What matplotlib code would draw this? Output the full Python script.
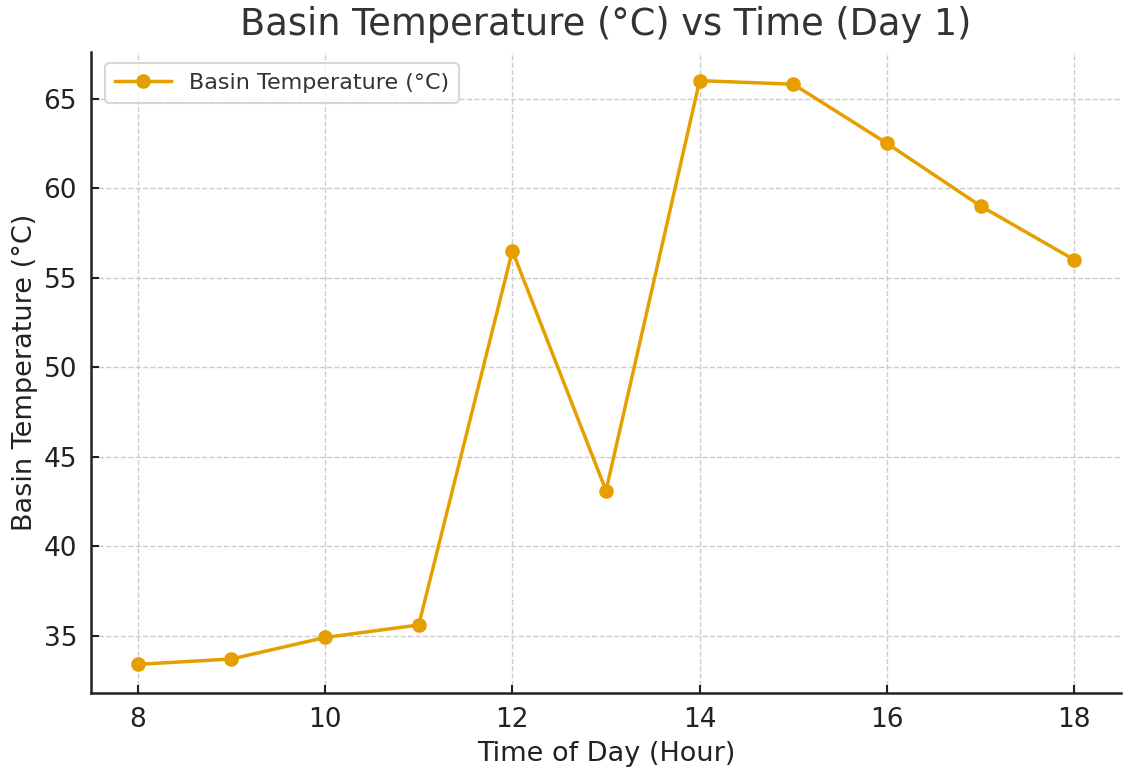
import matplotlib
matplotlib.use("Agg")
import matplotlib.pyplot as plt

hours = [8, 9, 10, 11, 12, 13, 14, 15, 16, 17, 18]
basin_temp = [33.4, 33.7, 34.9, 35.6, 56.5, 43.1, 66.0, 65.8, 62.5, 59.0, 56.0]

plt.rcParams['font.family'] = ['DejaVu Sans']
fig = plt.figure(figsize=(11.23, 7.69), dpi=100)
ax = fig.add_axes([91/1123, 1-693/769, (1121-91)/1123, (693-52)/769])

color = '#E69F00'
ax.plot(hours, basin_temp, color=color, marker='o', linewidth=2.5, markersize=9.5,
        label='Basin Temperature (°C)')

ax.set_xlim(7.5, 18.5)
ax.set_ylim(31.8, 67.6)
ax.set_xticks([8, 10, 12, 14, 16, 18])
ax.set_yticks([35, 40, 45, 50, 55, 60, 65])

ax.grid(True, linestyle='--', color='#cccccc', linewidth=1.0)
ax.set_axisbelow(True)
for s in ['top', 'right']:
    ax.spines[s].set_visible(False)
for s in ['left', 'bottom']:
    ax.spines[s].set_linewidth(1.8)
    ax.spines[s].set_color('#222222')

ax.tick_params(axis='both', direction='in', length=6, width=1.5, labelsize=19, colors='#222222', pad=10)

ax.set_title('Basin Temperature (°C) vs Time (Day 1)', fontsize=26.5, color='#333333', pad=12)
ax.set_xlabel('Time of Day (Hour)', fontsize=19.5, color='#222222', labelpad=6)
ax.set_ylabel('Basin Temperature (°C)', fontsize=19.5, color='#222222', labelpad=4)

leg = ax.legend(loc='upper left', fontsize=16, frameon=True, borderpad=0.45,
                handlelength=2.5, bbox_to_anchor=(0.003, 1.0))
leg.get_frame().set_edgecolor('#cccccc')
leg.get_frame().set_linewidth(1.5)
for t in leg.get_texts():
    t.set_color('#333333')

fig.savefig('out.png', dpi=100)
